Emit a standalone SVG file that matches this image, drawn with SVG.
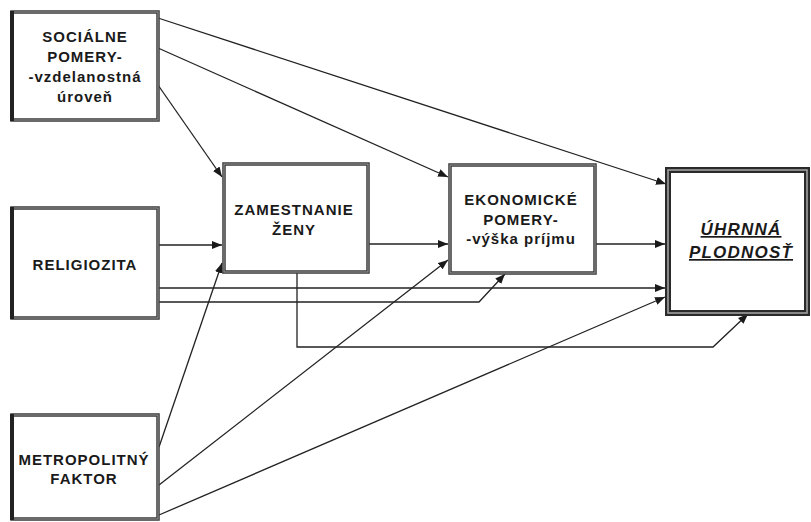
<svg xmlns="http://www.w3.org/2000/svg" width="811" height="522" viewBox="0 0 811 522">
<defs>
<marker id="ah" viewBox="0 0 10 8" refX="10" refY="4" markerWidth="10" markerHeight="8" markerUnits="userSpaceOnUse" orient="auto">
<path d="M0,0 L10,4 L0,8 Z" fill="#1a1a1a"/>
</marker>
</defs>
<style>
.bx{fill:#fff;stroke:#3a3a3a;stroke-width:3.5}
.bi{fill:none;stroke:#9a9a9a;stroke-width:1}
.lb{fill:none;stroke:#222;stroke-width:4}
.big{fill:#fff;stroke:#2a2a2a;stroke-width:6}
.bigi{fill:none;stroke:#a0a0a0;stroke-width:1.6}
.t{font-family:"Liberation Sans",Arial,sans-serif;font-weight:bold;font-size:15px;letter-spacing:1px;fill:#1a1a1a;text-anchor:middle}
.ti{font-style:italic;font-size:17px;letter-spacing:1.2px;text-decoration:underline}
.c{fill:none;stroke:#222;stroke-width:1.3}
</style>
<rect width="811" height="522" fill="#fff"/>
<g id="connectors">
<line class="c" x1="158" y1="18" x2="666" y2="184" marker-end="url(#ah)"/>
<line class="c" x1="158" y1="48" x2="448" y2="177" marker-end="url(#ah)"/>
<line class="c" x1="158" y1="85" x2="222" y2="177" marker-end="url(#ah)"/>
<line class="c" x1="158" y1="245" x2="222" y2="245" marker-end="url(#ah)"/>
<line class="c" x1="158" y1="288" x2="665" y2="288" marker-end="url(#ah)"/>
<polyline class="c" points="158,302 479,302 505,274" marker-end="url(#ah)"/>
<polyline class="c" points="297,273 297,347 713,347 748,314" marker-end="url(#ah)"/>
<line class="c" x1="368" y1="244" x2="448" y2="244" marker-end="url(#ah)"/>
<line class="c" x1="595" y1="244" x2="665" y2="244" marker-end="url(#ah)"/>
<line class="c" x1="159" y1="447" x2="222" y2="263" marker-end="url(#ah)"/>
<line class="c" x1="159" y1="485" x2="448" y2="260" marker-end="url(#ah)"/>
<line class="c" x1="159" y1="515" x2="665" y2="297" marker-end="url(#ah)"/>
</g>
<g id="socialne">
<rect class="bx" x="12" y="12" width="146" height="108"/>
<rect class="bi" x="12" y="12" width="146" height="108"/>
<line class="lb" x1="12" y1="11" x2="12" y2="121"/>
<text class="t" x="85" y="42">SOCIÁLNE</text>
<text class="t" x="85" y="62">POMERY-</text>
<text class="t" x="85" y="82">-vzdelanostná</text>
<text class="t" x="85" y="102">úroveň</text>
</g>
<g id="religiozita">
<rect class="bx" x="12" y="208" width="146" height="110"/>
<rect class="bi" x="12" y="208" width="146" height="110"/>
<line class="lb" x1="12" y1="207" x2="12" y2="319"/>
<text class="t" x="85" y="270">RELIGIOZITA</text>
</g>
<g id="metropolitny">
<rect class="bx" x="12" y="415" width="146" height="104"/>
<rect class="bi" x="12" y="415" width="146" height="104"/>
<line class="lb" x1="12" y1="414" x2="12" y2="520"/>
<text class="t" x="84" y="465">METROPOLITNÝ</text>
<text class="t" x="84" y="484">FAKTOR</text>
</g>
<g id="zamestnanie">
<rect class="bx" x="224" y="164" width="144" height="108"/>
<rect class="bi" x="224" y="164" width="144" height="108"/>
<text class="t" x="294" y="215">ZAMESTNANIE</text>
<text class="t" x="294" y="235">ŽENY</text>
</g>
<g id="ekonomicke">
<rect class="bx" x="450" y="165" width="145" height="108"/>
<rect class="bi" x="450" y="165" width="145" height="108"/>
<text class="t" x="521" y="205">EKONOMICKÉ</text>
<text class="t" x="521" y="225">POMERY-</text>
<text class="t" x="521" y="244">-výška príjmu</text>
</g>
<g id="uhrnna">
<rect class="big" x="668" y="170" width="139" height="143"/>
<rect class="bigi" x="668" y="170" width="139" height="143"/>
<text class="t ti" x="741" y="235">ÚHRNNÁ</text>
<text class="t ti" x="741" y="258">PLODNOSŤ</text>
</g>
</svg>
